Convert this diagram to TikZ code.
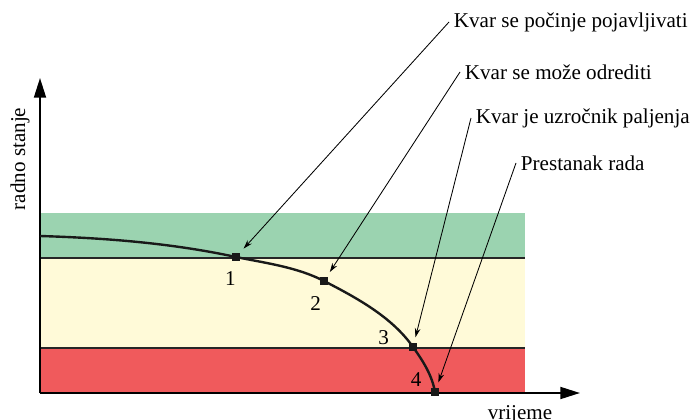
\documentclass[tikz,border=0pt]{standalone}
\usepackage{fontspec}
\setmainfont{Liberation Serif}
\usetikzlibrary{arrows.meta, positioning}

\definecolor{bandgreen}{RGB}{155,211,176}
\definecolor{bandyellow}{RGB}{255,250,216}
\definecolor{bandred}{RGB}{240,90,92}

\begin{document}
\begin{tikzpicture}[
    x=0.025cm, y=-0.025cm,
    axis/.style={line width=1.4pt, -{Triangle[length=14pt, width=8.5pt]}},
    limit/.style={line width=1pt, draw=black!85},
    curve/.style={line width=1.7pt, draw=black!90},
    point/.style={rectangle, fill=black!90, minimum size=5.6pt, inner sep=0pt},
    num/.style={font=\fontsize{15}{18}\selectfont, inner sep=1pt},
    note/.style={font=\fontsize{15}{18}\selectfont, anchor=west},
    pointer/.style={line width=0.6pt, -{Stealth[length=6.5pt, width=4pt]}, shorten >=4pt}
]
\useasboundingbox (0,0) rectangle (692,420);

% Bands
\fill[bandgreen] (40,213) rectangle (525,258);
\fill[bandyellow] (40,258) rectangle (525,348);
\fill[bandred] (40,348) rectangle (525,393);
\draw[limit] (40,258) -- (525,258);
\draw[limit] (40,348) -- (525,348);

% Axes
\coordinate (origin) at (40,393);
\coordinate (ytip) at (40,78);
\coordinate (xtip) at (580,393);
\draw[axis] (origin) -- (ytip);
\draw[axis] (origin) -- (xtip);
\node[font=\fontsize{15}{18}\selectfont, rotate=90] (ylab) at (20,159) {radno stanje};
\node[font=\fontsize{15}{18}\selectfont, anchor=base] (xlab) at (520,419) {vrijeme};

% Points
\coordinate (c0) at (40,236);
\node[point] (p1) at (236,257) {};
\node[point] (p2) at (324,281) {};
\node[point] (p3) at (413,347) {};
\node[point] (p4) at (435,392) {};

% Curve
\draw[curve] (c0) .. controls (105,238) and (171,243) .. (p1.center)
    .. controls (265,263) and (297,267) .. (p2.center)
    .. controls (357,298) and (392,317) .. (p3.center)
    .. controls (423,361) and (432,375) .. (p4.center);
\node[point] at (p1) {};
\node[point] at (p2) {};
\node[point] at (p3) {};
\node[point] at (p4) {};

% Numbers
\node[num, below=6pt of p1, xshift=-4pt] (n1) {1};
\node[num, below=6.5pt of p2, xshift=-6pt] (n2) {2};
\node[num, left=13pt of p3, yshift=7pt] (n3) {3};
\node[num, left=5.5pt of p4, yshift=8.5pt] (n4) {4};

% Notes
\node[note] (t1) at (449,22) {Kvar se počinje pojavljivati};
\node[note] (t2) at (460,72) {Kvar se može odrediti};
\node[note] (t3) at (471,118) {Kvar je uzročnik paljenja};
\node[note] (t4) at (516,163) {Prestanak rada};

% Pointers
\draw[pointer] (t1.west) -- (p1);
\draw[pointer] (t2.west) -- (p2);
\draw[pointer] (t3.west) -- (p3);
\draw[pointer] (t4.west) -- (p4);

\end{tikzpicture}
\end{document}
